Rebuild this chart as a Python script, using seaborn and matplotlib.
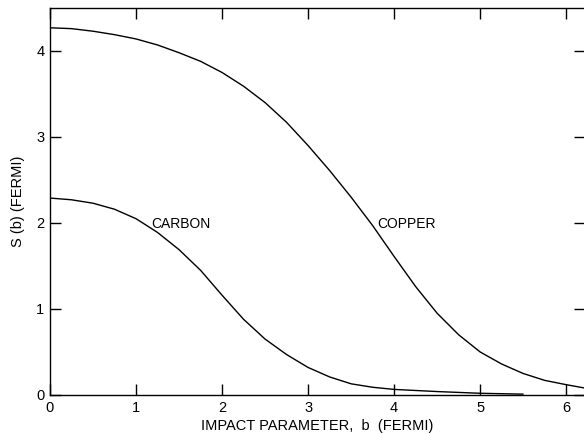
import matplotlib
matplotlib.use("Agg")
import matplotlib.pyplot as plt
import seaborn as sns
import pandas as pd

copper_b = [0.0, 0.25, 0.5, 0.75, 1.0, 1.25, 1.5, 1.75, 2.0, 2.25, 2.5, 2.75, 3.0, 3.25, 3.5,
            3.75, 4.0, 4.25, 4.5, 4.75, 5.0, 5.25, 5.5, 5.75, 6.0, 6.22]
copper_s = [4.27, 4.26, 4.23, 4.19, 4.14, 4.07, 3.98, 3.88, 3.75, 3.59, 3.40, 3.17, 2.90, 2.61, 2.30,
            1.97, 1.61, 1.26, 0.95, 0.70, 0.50, 0.36, 0.25, 0.17, 0.12, 0.08]

carbon_b = [0.0, 0.25, 0.5, 0.75, 1.0, 1.25, 1.5, 1.75, 2.0, 2.25, 2.5, 2.75, 3.0, 3.25, 3.5,
            3.75, 4.0, 4.5, 5.0, 5.5]
carbon_s = [2.29, 2.27, 2.23, 2.16, 2.05, 1.89, 1.69, 1.45, 1.16, 0.88, 0.65, 0.47, 0.32, 0.21, 0.13,
            0.09, 0.065, 0.04, 0.02, 0.01]

x_ticks = [0, 1, 2, 3, 4, 5, 6]
y_ticks = [0, 1, 2, 3, 4]

sns.set_style("ticks")
plt.rcParams['font.family'] = ['Liberation Sans', 'DejaVu Sans']
plt.rcParams['text.color'] = 'black'
plt.rcParams['axes.labelcolor'] = 'black'

fig = plt.figure(figsize=(5.84, 4.34), dpi=100)
ax = fig.add_axes([50 / 584, 39 / 434, 1 - 50 / 584 + 0.002, 387 / 434])

df = pd.concat([
    pd.DataFrame({"b": copper_b, "S": copper_s, "series": "COPPER"}),
    pd.DataFrame({"b": carbon_b, "S": carbon_s, "series": "CARBON"}),
])
sns.lineplot(data=df, x="b", y="S", units="series", estimator=None,
             color="black", linewidth=1.0, ax=ax, legend=False)

ax.set_xlim(0, 6.22)
ax.set_ylim(0, 4.5)
ax.set_xticks(x_ticks)
ax.set_yticks(y_ticks)
ax.set_xticklabels([str(t) for t in x_ticks])
ax.set_yticklabels([str(t) for t in y_ticks])
ax.tick_params(direction="in", length=8, width=1.0, top=True, right=True,
               labelsize=10.5, colors="black", pad=4)
for s in ax.spines.values():
    s.set_linewidth(1.0)
    s.set_color("black")

ax.set_xlabel("IMPACT PARAMETER,  b  (FERMI)", fontsize=10.5, labelpad=3, color="black")
ax.set_ylabel("S (b) (FERMI)", fontsize=10.5, labelpad=8, color="black")

ax.text(1.18, 1.99, "CARBON", fontsize=10, va="center", ha="left", color="black")
ax.text(3.80, 1.99, "COPPER", fontsize=10, va="center", ha="left", color="black")

fig.savefig("out.png", dpi=100)
